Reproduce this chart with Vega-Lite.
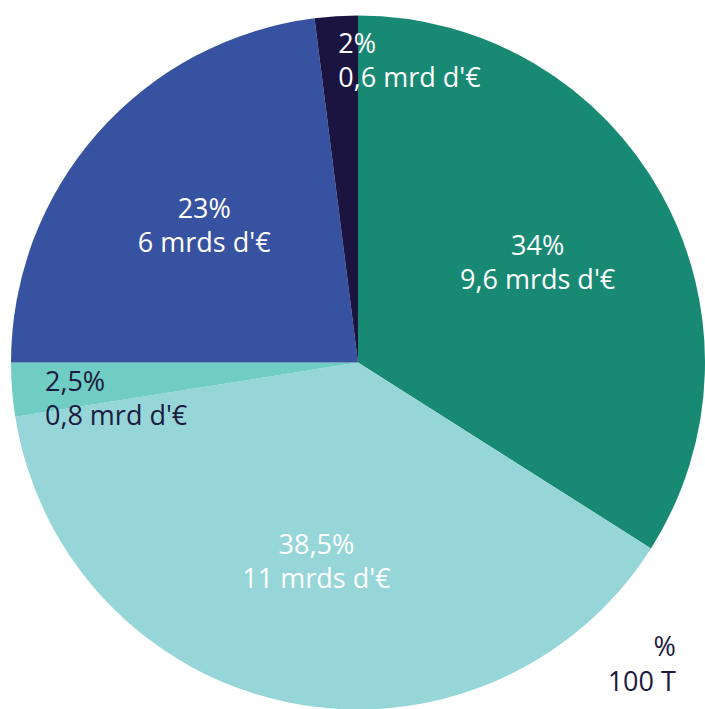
{
  "$schema": "https://vega.github.io/schema/vega-lite/v6.json",
  "autosize": {"type": "none"},
  "width": 694,
  "height": 693,
  "padding": {"left": 11, "top": 16, "right": 0, "bottom": 0},
  "background": "white",
  "view": {"stroke": null},
  "data": {
    "values": [
      {"rank": 1, "segment": "A", "share": 34, "label": "34%\n9,6 mrds d'€"},
      {"rank": 2, "segment": "B", "share": 38.5, "label": "38,5%\n11 mrds d'€"},
      {"rank": 3, "segment": "C", "share": 2.5, "label": "2,5%\n0,8 mrd d'€"},
      {"rank": 4, "segment": "D", "share": 23, "label": "23%\n6 mrds d'€"},
      {"rank": 5, "segment": "E", "share": 2, "label": "2%\n0,6 mrd d'€"}
    ]
  },
  "transform": [
    {"stack": "share", "groupby": [], "sort": [{"field": "rank", "order": "ascending"}], "as": ["s0", "s1"]},
    {"calculate": "(datum.s0 + datum.s1) / 2", "as": "mid"}
  ],
  "layer": [
    {
      "mark": {"type": "arc", "radius": 347, "stroke": null},
      "encoding": {
        "theta": {"field": "s0", "type": "quantitative", "scale": {"domain": [0, 100]}},
        "theta2": {"field": "s1"},
        "color": {
          "field": "segment", "type": "nominal", "legend": null,
          "scale": {"domain": ["A", "B", "C", "D", "E"], "range": ["#188a73", "#96d6d8", "#6fcdc3", "#3752a0", "#1c1440"]}
        }
      }
    },
    {
      "transform": [{"filter": "datum.share >= 20"}],
      "mark": {"type": "text", "radius": 205, "dy": -17, "align": "center", "baseline": "middle", "lineBreak": "\n", "lineHeight": 34, "font": "Open Sans", "fontSize": 27, "fontWeight": 500, "color": "white"},
      "encoding": {
        "theta": {"field": "mid", "type": "quantitative", "scale": {"domain": [0, 100]}},
        "text": {"field": "label"}
      }
    },
    {
      "transform": [{"filter": "datum.share < 20"}],
      "mark": {"type": "text", "radius": 314, "dy": -4, "align": "left", "baseline": "middle", "lineBreak": "\n", "lineHeight": 34, "font": "Open Sans", "fontSize": 27, "fontWeight": 500},
      "encoding": {
        "theta": {"field": "mid", "type": "quantitative", "scale": {"domain": [0, 100]}},
        "text": {"field": "label"},
        "color": {"condition": {"test": "datum.share == 2.5", "value": "#1c1a3f"}, "value": "white"}
      }
    },
    {
      "data": {"values": [{"note": ["%", "100 T"]}]},
      "mark": {"type": "text", "theta": 2.302, "radius": 427, "align": "right", "baseline": "middle", "lineHeight": 35, "font": "Open Sans", "fontSize": 27, "fontWeight": 500, "color": "#1c1a3f"},
      "encoding": {"text": {"field": "note"}}
    }
  ]
}
